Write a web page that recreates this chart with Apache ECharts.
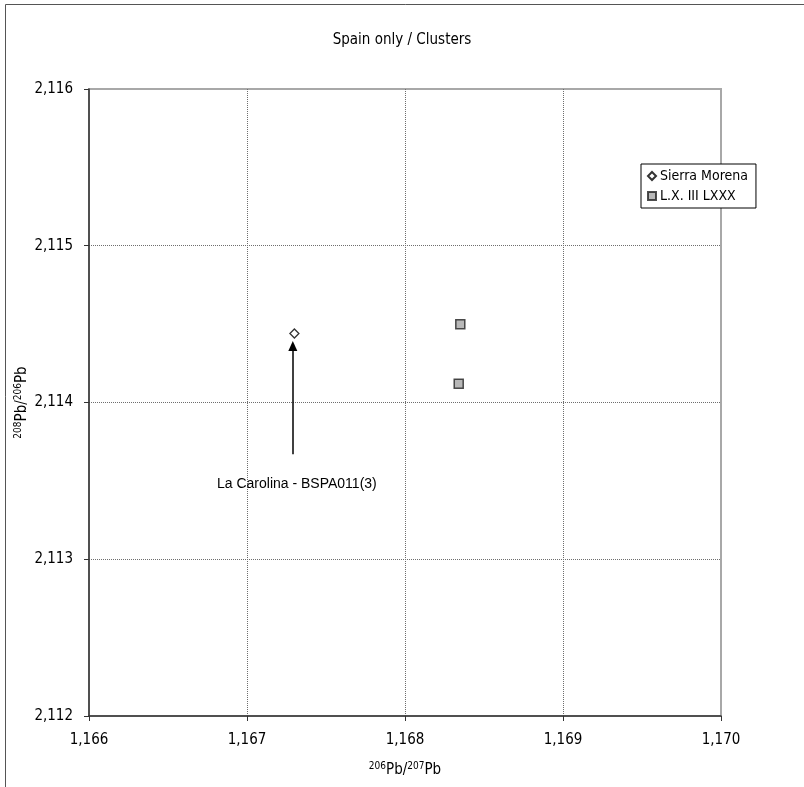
<!DOCTYPE html>
<html>
<head>
<meta charset="utf-8">
<script src="https://cdn.jsdelivr.net/npm/echarts@6/dist/echarts.min.js"></script>
<style>
  html, body { margin: 0; padding: 0; background: #fff; }
  #chart { width: 804px; height: 787px; }
</style>
</head>
<body>
<div id="chart"></div>
<script>
// Chart text and values
const chartTitle = 'Spain only / Clusters';
const xRange = [1.166, 1.170];
const yRange = [2.112, 2.116];
const tickStep = 0.001;

const seriesNames = ['Sierra Morena', 'L.X. III LXXX'];
const sierraMorena = [[1.16730, 2.11444]];
const lxIIILXXX = [[1.16835, 2.11450], [1.16834, 2.11412]];

// Annotation: arrow from its tail up to its tip, and its caption
const noteText = 'La Carolina - BSPA011(3)';
const noteArrow = [[1.16729, 2.11367], [1.16729, 2.11436]];
const noteTextAt = [1.16681, 2.11348];

const FONT = '"DejaVu Sans Condensed", "DejaVu Sans", sans-serif';
const fmt = v => v.toFixed(3).replace('.', ',');

const gridLine = { show: true, showMinLine: false, showMaxLine: false,
  lineStyle: { color: '#6e6e6e', type: [1, 1], width: 1 } };

const nameRich = {
  b: { fontFamily: FONT, fontSize: 15, color: '#000', lineHeight: 20 },
  s: { fontFamily: FONT, fontSize: 10, color: '#000', lineHeight: 20, padding: [0, 0, 7, 0] }
};

const chart = echarts.init(document.getElementById('chart'), null, { renderer: 'canvas' });

const option = {
  backgroundColor: '#fff',
  animation: false,
  title: {
    text: chartTitle,
    left: 'center',
    top: 28,
    textStyle: { fontFamily: FONT, fontSize: 15, fontWeight: 'normal', color: '#000' }
  },
  legend: {
    orient: 'vertical',
    left: 641,
    top: 164,
    width: 113,
    padding: [5, 8, 5, 6],
    itemGap: 6,
    itemWidth: 8,
    itemHeight: 8,
    borderColor: '#000',
    borderWidth: 1,
    backgroundColor: '#fff',
    textStyle: { fontFamily: FONT, fontSize: 14, color: '#000', padding: [0, 0, 0, -1] },
    data: seriesNames
  },
  grid: {
    left: 89, right: 83, top: 89, bottom: 71,
    containLabel: false,
    outerBoundsMode: 'none',
    show: true,
    borderColor: '#a8a8a8',
    borderWidth: 2,
    backgroundColor: '#fff'
  },
  xAxis: {
    type: 'value',
    min: xRange[0], max: xRange[1], interval: tickStep,
    name: '{s|206}{b|Pb/}{s|207}{b|Pb}',
    nameLocation: 'middle',
    nameGap: 44,
    nameMoveOverlap: false,
    nameTextStyle: { rich: nameRich },
    axisLine: { show: true, onZero: false, lineStyle: { color: '#333', width: 1.5 } },
    axisTick: { show: true, length: 5, lineStyle: { color: '#333' } },
    axisLabel: { margin: 17, fontFamily: FONT, fontSize: 15, color: '#000', formatter: fmt },
    splitLine: gridLine
  },
  yAxis: {
    type: 'value',
    min: yRange[0], max: yRange[1], interval: tickStep,
    name: '{s|208}{b|Pb/}{s|206}{b|Pb}',
    nameLocation: 'middle',
    nameGap: 57,
    nameMoveOverlap: false,
    nameTextStyle: { rich: nameRich },
    axisLine: { show: true, onZero: false, lineStyle: { color: '#333', width: 1.5 } },
    axisTick: { show: true, length: 5, lineStyle: { color: '#333' } },
    axisLabel: { margin: 16, fontFamily: FONT, fontSize: 15, color: '#000', formatter: fmt },
    splitLine: gridLine
  },
  series: [
    {
      name: seriesNames[0],
      type: 'scatter',
      data: sierraMorena,
      symbol: 'diamond',
      symbolSize: 9,
      itemStyle: { color: '#fff', borderColor: '#000', borderWidth: 1.3 },
      z: 5,
      markLine: {
        silent: true,
        animation: false,
        symbol: ['none', 'triangle'],
        symbolSize: [9, 10],
        label: { show: false },
        lineStyle: { color: '#000', width: 1.5, type: 'solid' },
        data: [[
          { coord: noteArrow[0], symbol: 'none' },
          { coord: noteArrow[1], symbol: 'triangle' }
        ]]
      }
    },
    {
      name: seriesNames[1],
      type: 'scatter',
      data: lxIIILXXX,
      symbol: 'rect',
      symbolSize: 9,
      itemStyle: { color: '#a6a6a6', borderColor: '#222', borderWidth: 1.5 },
      z: 5
    }
  ]
};

chart.setOption(option);

// Caption of the arrow, placed from its data position, plus the outer chart frame
const capPos = chart.convertToPixel({ gridIndex: 0 }, noteTextAt);
chart.setOption({
  graphic: [
    {
      type: 'rect',
      silent: true,
      z: 100,
      shape: { x: 5.5, y: 4.5, width: 1000, height: 1000 },
      style: { fill: 'none', stroke: '#555', lineWidth: 1 }
    },
    {
      type: 'text',
      silent: true,
      z: 100,
      x: capPos[0],
      y: capPos[1],
      style: {
        text: noteText,
        fontFamily: '"Liberation Sans", Arial, sans-serif',
        fontSize: 14,
        fill: '#000',
        textAlign: 'left',
        textVerticalAlign: 'middle'
      }
    }
  ]
});
</script>
</body>
</html>
